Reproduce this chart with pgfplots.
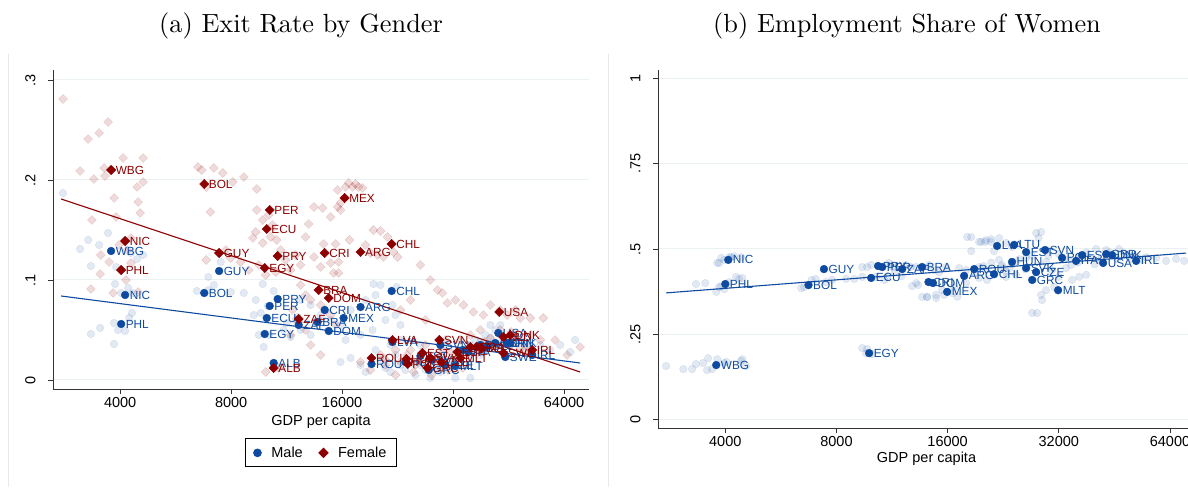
\documentclass[border=0pt]{standalone}
\usepackage{fontspec}
\usepackage{pgfplots}
\pgfplotsset{compat=1.18}
\newfontfamily\arial{Liberation Sans}
\newfontfamily\titlefont{lmroman10-regular.otf}
\definecolor{sblue}{RGB}{14,75,160}
\definecolor{sred}{RGB}{140,0,0}
\definecolor{sgrid}{RGB}{234,241,243}
\definecolor{sframe}{RGB}{230,234,236}
\newcommand{\tickfont}{\arial\fontsize{14.5}{16}\selectfont}
\newcommand{\lblfont}{\arial\fontsize{11.8}{13}\selectfont}
\pgfplotsset{
  faintm/.style={only marks, mark=*, mark size=3.8pt, color=sblue, mark options={opacity=0.12}, forget plot},
  faintf/.style={only marks, mark=square*, mark size=3.2pt, color=sred, mark options={rotate=45, opacity=0.14}, forget plot},
  solidm/.style={only marks, mark=*, mark size=3.9pt, color=sblue, nodes near coords, point meta=explicit symbolic,
     every node near coord/.style={anchor=west, xshift=3.5pt, inner sep=1pt, font=\lblfont, text=sblue}},
  solidf/.style={only marks, mark=square*, mark size=3.3pt, color=sred, mark options={rotate=45}, nodes near coords, point meta=explicit symbolic,
     every node near coord/.style={anchor=west, xshift=3.5pt, inner sep=1pt, font=\lblfont, text=sred}},
}
\begin{document}
\begin{tikzpicture}
\path[use as bounding box] (0pt,0pt) rectangle (1188pt,487pt);
\draw[sframe, line width=1pt] (8pt,0pt) -- (8pt,433pt);
\draw[sframe, line width=1pt] (608pt,0pt) -- (608pt,433pt);
\node[font=\titlefont\fontsize{26.3}{30}\selectfont] at (301pt,461pt) {(a) Exit Rate by Gender};
\node[font=\titlefont\fontsize{26.3}{30}\selectfont] at (907pt,461pt) {(b) Employment Share of Women};
% ---------------- Panel (a)
\begin{axis}[at={(53pt,98pt)}, anchor=south west, scale only axis, width=536pt, height=319pt,
    xmode=log, log basis x=2,
    xmin=2630, xmax=74800,
    xtick={4000,8000,16000,32000,64000},
    xticklabels={4000,8000,16000,32000,64000},
    xminorticks=false, yminorticks=false,
    axis x line=bottom, axis y line=left,
    axis line style={-, line width=0.9pt, black!80},
    tick align=outside,
    major tick length=5pt,
    tick style={line width=0.9pt, black!80},
    ymajorgrids, grid style={sgrid, line width=1pt},
    ticklabel style={font=\tickfont},
    yticklabel style={rotate=90, anchor=south},
    yticklabel shift=9pt,
    xlabel={GDP per capita},
    label style={font=\tickfont},
    clip=false,
  ymin=-0.009, ymax=0.310, ytick={0,0.1,0.2,0.3}, yticklabels={0,.1,.2,.3},
  xlabel style={at={(axis description cs:0.5,-0.1034)}, anchor=center},
  legend style={at={(0.5,-0.155)}, anchor=north, legend columns=2, draw=black, line width=0.8pt,
    font=\tickfont, inner xsep=8pt, inner ysep=6pt,
    /tikz/every odd column/.append style={column sep=8pt},
    /tikz/every even column/.append style={column sep=14pt}},
  legend cell align=left]
\addplot[faintm] table {
x y
2800 0.187
3276 0.140
3508 0.135
3710 0.147
3115 0.131
3332 0.114
3875 0.096
4279 0.127
4447 0.121
4617 0.125
3332 0.046
3530 0.052
3851 0.036
3950 0.050
4126 0.049
4306 0.067
4230 0.062
3851 0.057
4025 0.087
4333 0.087
4205 0.092
3900 0.113
6460 0.089
6940 0.090
7180 0.095
7982 0.088
8660 0.087
6940 0.103
7500 0.118
9745 0.096
9806 0.033
9510 0.045
10436 0.089
9330 0.080
9215 0.065
9624 0.067
10055 0.074
11320 0.057
11110 0.050
11604 0.043
12130 0.063
10120 0.045
12350 0.080
13145 0.075
13990 0.065
14890 0.060
15848 0.055
16867 0.070
18530 0.080
19710 0.085
20336 0.095
19350 0.050
17952 0.045
16350 0.040
13145 0.045
12350 0.050
11975 0.060
20970 0.060
22330 0.065
23036 0.055
21915 0.075
19470 0.096
22470 0.093
20336 0.020
20970 0.012
21644 0.008
22330 0.025
23036 0.015
23760 0.010
24518 0.020
25290 0.005
26095 0.015
26920 0.010
27774 0.022
28650 0.012
29560 0.008
30500 0.020
31462 0.015
32450 0.010
33486 0.025
34550 0.030
35640 0.035
36770 0.040
37933 0.038
39130 0.045
40374 0.042
41650 0.050
42972 0.045
44330 0.040
45736 0.035
47180 0.045
48679 0.040
50220 0.035
51811 0.030
55145 0.035
58693 0.030
62470 0.035
66489 0.028
68590 0.040
42972 0.055
40374 0.055
35640 0.020
37933 0.025
29560 0.035
26095 0.035
23036 0.040
21644 0.035
19710 0.030
17952 0.015
18530 0.008
16867 0.022
15848 0.018
32450 0.002
35640 0.002
27774 0.002
};
\addplot[faintf] table {
x y
2800 0.281
3115 0.209
3276 0.241
3353 0.160
3394 0.201
3508 0.247
3620 0.212
3640 0.204
3710 0.258
3851 0.182
3900 0.163
4075 0.222
4447 0.193
4475 0.178
4532 0.167
4617 0.222
4617 0.198
3332 0.091
3530 0.106
3830 0.087
4150 0.100
4279 0.117
4475 0.088
3545 0.125
3975 0.135
4279 0.142
3735 0.118
4177 0.130
6500 0.213
6660 0.210
7180 0.212
7595 0.207
8080 0.198
8660 0.203
9390 0.191
7030 0.168
6850 0.193
6850 0.120
7740 0.130
7982 0.122
8496 0.118
8940 0.110
9390 0.170
9745 0.160
10120 0.165
10370 0.155
9160 0.142
9330 0.148
9745 0.137
10243 0.143
10635 0.140
10902 0.130
11250 0.120
11604 0.110
11975 0.125
12350 0.115
9510 0.115
9930 0.105
10570 0.108
15560 0.190
16350 0.193
17080 0.193
17730 0.193
18180 0.192
15848 0.177
15560 0.173
15848 0.170
14890 0.163
13420 0.173
14170 0.172
16660 0.197
17400 0.196
12980 0.156
12740 0.143
14260 0.136
15360 0.136
16760 0.140
19470 0.150
20336 0.149
21240 0.143
18530 0.135
19107 0.127
19950 0.125
22610 0.123
22050 0.128
20710 0.123
15660 0.118
14890 0.117
13420 0.123
13990 0.113
15170 0.107
15660 0.107
12350 0.095
12740 0.085
13145 0.080
13990 0.075
14440 0.070
14890 0.065
11750 0.070
12200 0.058
12740 0.050
13560 0.058
15360 0.055
11604 0.045
13145 0.035
13990 0.025
9930 0.008
10770 0.012
26095 0.115
29010 0.090
29930 0.087
30890 0.077
32450 0.080
34140 0.075
36330 0.068
38670 0.065
44880 0.065
48679 0.062
51811 0.062
56190 0.062
70767 0.033
65260 0.025
60550 0.040
40374 0.075
42972 0.070
47180 0.070
27774 0.100
24518 0.080
23036 0.070
26920 0.060
20336 0.025
20970 0.015
22330 0.030
23036 0.018
24518 0.030
25290 0.015
26920 0.035
28650 0.022
30500 0.040
31462 0.028
33486 0.040
35640 0.045
37933 0.050
40374 0.042
42972 0.050
45736 0.035
48679 0.032
55145 0.040
34550 0.025
29560 0.012
32450 0.015
22330 0.005
19107 0.010
17952 0.018
21000 0.020
24000 0.025
27000 0.018
30000 0.030
33000 0.022
36000 0.030
39000 0.038
44000 0.040
50000 0.030
25000 0.008
28000 0.005
31000 0.010
34000 0.012
38000 0.028
46000 0.048
52000 0.045
};
\addplot[sblue, line width=1.1pt, forget plot] coordinates {(2766,0.084) (70767,0.017)};
\addplot[sred, line width=1.1pt, forget plot] coordinates {(2766,0.181) (70767,0.008)};
\addplot[solidm] table[x=x, y=y, meta=lab] {
x y lab
3780 0.129 WBG
4126 0.085 NIC
4025 0.056 PHL
7422 0.109 GUY
6763 0.087 BOL
10700 0.081 PRY
10180 0.074 PER
9993 0.062 ECU
9868 0.046 EGY
10436 0.017 ALB
14350 0.070 CRI
17950 0.073 ARG
16150 0.062 MEX
12200 0.055 ZAF
13730 0.058 BRA
14720 0.049 DOM
21800 0.089 CHL
21915 0.038 LVA
19230 0.016 ROU
42440 0.047 USA
44330 0.023 SWE
27490 0.010 GRC
32450 0.014 MLT
23760 0.018 HUN
26095 0.024 EST
28000 0.020 SVK
30500 0.015 CZE
29560 0.035 SVN
34000 0.030 ESP
35200 0.028 ITA
37933 0.035 FRA
39600 0.034 BEL
41650 0.037 GBR
44880 0.037 DNK
45736 0.037 FIN
52460 0.025 IRL
};
\addlegendentry{Male}
\addplot[solidf] table[x=x, y=y, meta=lab] {
x y lab
3780 0.210 WBG
6763 0.196 BOL
10180 0.170 PER
9993 0.151 ECU
4126 0.139 NIC
21800 0.136 CHL
7422 0.127 GUY
14350 0.127 CRI
17950 0.128 ARG
10700 0.124 PRY
9868 0.112 EGY
4025 0.110 PHL
16250 0.182 MEX
13815 0.090 BRA
14720 0.082 DOM
42700 0.068 USA
12200 0.061 ZAF
21915 0.040 LVA
29380 0.040 SVN
52460 0.030 IRL
19230 0.022 ROU
10436 0.012 ALB
23900 0.021 HUN
24100 0.016 POL
26420 0.027 EST
27774 0.022 SVK
27300 0.012 GRC
29750 0.018 CZE
32850 0.028 ESP
35640 0.033 ITA
37000 0.033 FRA
38150 0.032 BEL
43790 0.043 NLD
45736 0.045 DNK
43790 0.027 SWE
33500 0.022 MLT
};
\addlegendentry{Female}
\end{axis}
% ---------------- Panel (b)
\begin{axis}[at={(658pt,59pt)}, anchor=south west, scale only axis, width=537pt, height=358pt,
    xmode=log, log basis x=2,
    xmin=2630, xmax=74800,
    xtick={4000,8000,16000,32000,64000},
    xticklabels={4000,8000,16000,32000,64000},
    xminorticks=false, yminorticks=false,
    axis x line=bottom, axis y line=left,
    axis line style={-, line width=0.9pt, black!80},
    tick align=outside,
    major tick length=5pt,
    tick style={line width=0.9pt, black!80},
    ymajorgrids, grid style={sgrid, line width=1pt},
    ticklabel style={font=\tickfont},
    yticklabel style={rotate=90, anchor=south},
    yticklabel shift=9pt,
    xlabel={GDP per capita},
    label style={font=\tickfont},
    clip=false,
  ymin=-0.026, ymax=1.026, ytick={0,0.25,0.5,0.75,1}, yticklabels={0,.25,.5,.75,1},
  xlabel style={at={(axis description cs:0.5,-0.0866)}, anchor=center}]
\addplot[faintm] table {
x y
2766 0.156
3080 0.147
3253 0.147
3332 0.162
3485 0.165
3595 0.179
3570 0.144
3685 0.147
3805 0.176
3975 0.165
4025 0.168
4414 0.171
4555 0.156
4447 0.176
3805 0.459
3900 0.474
4100 0.476
4230 0.479
4414 0.476
3332 0.397
3530 0.400
3780 0.374
3851 0.388
4100 0.403
4279 0.418
4360 0.412
4447 0.415
3975 0.382
3900 0.391
3851 0.459
3975 0.468
4150 0.476
6420 0.385
6540 0.388
6850 0.409
7030 0.412
7500 0.403
7790 0.409
8496 0.412
8940 0.412
9685 0.447
9390 0.418
10243 0.418
10770 0.409
11110 0.459
9390 0.209
9624 0.194
9993 0.191
9685 0.206
9390 0.447
9930 0.453
11320 0.447
12350 0.453
12740 0.447
13145 0.447
14260 0.453
14720 0.438
15170 0.432
15848 0.447
13145 0.400
13645 0.359
14080 0.359
14890 0.365
15450 0.379
16660 0.388
17952 0.400
18530 0.535
19470 0.521
20336 0.526
20970 0.521
22050 0.532
23036 0.518
23900 0.506
17190 0.444
17952 0.438
19470 0.447
20336 0.438
22470 0.447
23500 0.444
18070 0.535
18530 0.494
19710 0.521
20200 0.521
20970 0.529
21370 0.494
27774 0.547
28650 0.550
28200 0.532
36330 0.476
40374 0.500
42972 0.497
46590 0.500
49600 0.482
55145 0.476
58693 0.474
62470 0.465
66489 0.471
69890 0.465
32000 0.418
34760 0.409
36330 0.418
37933 0.424
31100 0.388
29560 0.379
28830 0.350
27090 0.312
27950 0.312
28650 0.365
12820 0.391
13310 0.394
14080 0.359
14890 0.356
15660 0.365
19470 0.415
20460 0.409
23036 0.418
24518 0.424
33486 0.444
30700 0.438
34550 0.453
26095 0.474
29560 0.462
22050 0.468
22470 0.453
39380 0.474
41130 0.468
30000 0.480
32000 0.485
34000 0.470
38000 0.490
44000 0.490
48000 0.488
52000 0.478
36000 0.460
40000 0.455
46000 0.470
50000 0.470
54000 0.468
25000 0.470
27000 0.480
24000 0.455
21000 0.460
20000 0.450
19000 0.430
23000 0.435
26000 0.440
11000 0.420
11500 0.430
12000 0.420
16500 0.370
17000 0.360
};
\addplot[sblue, line width=1.1pt, forget plot] coordinates {(2766,0.371) (70700,0.488)};
\addplot[solidm] table[x=x, y=y, meta=lab] {
x y lab
3780 0.159 WBG
4075 0.468 NIC
4000 0.397 PHL
7400 0.441 GUY
6720 0.394 BOL
9806 0.194 EGY
9930 0.415 ECU
10370 0.450 PRY
10640 0.447 PER
12050 0.441 ZAF
13645 0.447 BRA
14200 0.403 CRI
14600 0.400 DOM
15950 0.374 MEX
17730 0.421 ARG
18880 0.441 ROU
21370 0.426 CHL
21780 0.509 LVA
24210 0.512 LTU
23900 0.462 HUN
26095 0.491 EST
29380 0.497 SVN
26095 0.444 SVK
27774 0.432 CZE
27100 0.409 GRC
31850 0.379 MLT
32650 0.474 POL
35640 0.465 ITA
37000 0.482 ESP
42170 0.459 USA
42972 0.485 GBR
44600 0.482 DNK
51811 0.465 IRL
};
\end{axis}
\end{tikzpicture}
\end{document}
